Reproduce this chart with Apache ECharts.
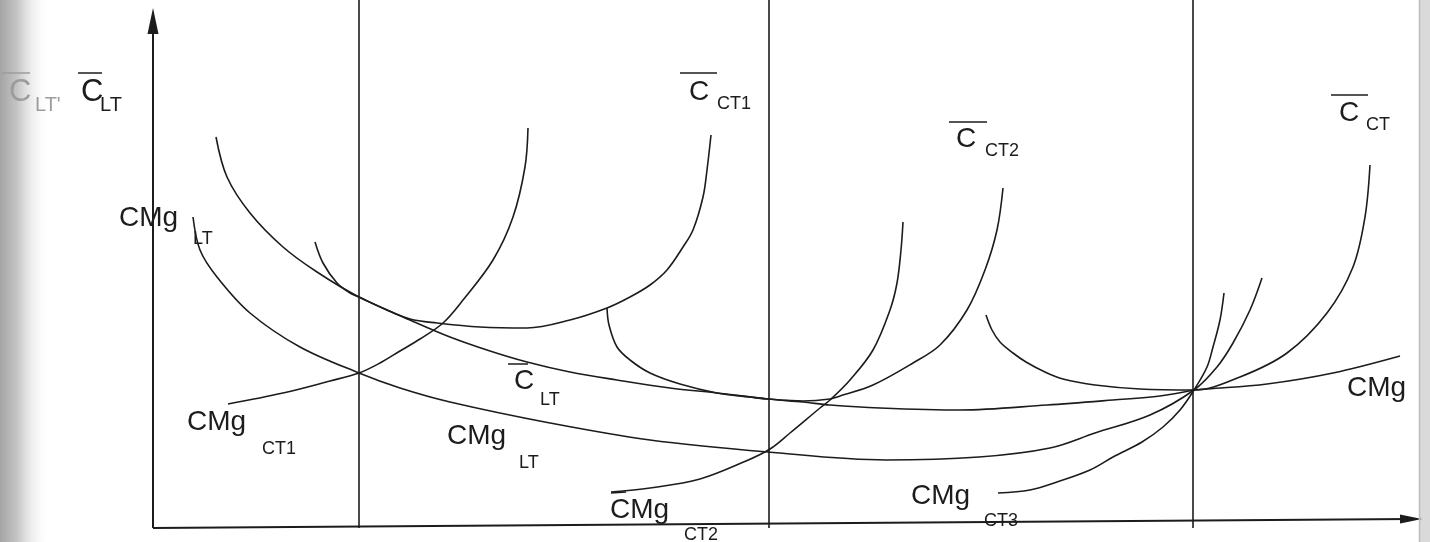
<!DOCTYPE html>
<html><head><meta charset="utf-8">
<script src="https://cdn.jsdelivr.net/npm/echarts/dist/echarts.min.js"></script>
<style>html,body{margin:0;padding:0;background:#fff}#c{width:1430px;height:542px}</style>
</head><body><div id="c"></div>
<script>
// Values: [quantity, cost] (arbitrary units, origin at the axes corner)
const cltAvg   = [[63,391],[74,351],[97,315],[130,281],[164,256],[206,231],[257,208],[297,191],[337,177],[374,166],[417,156],[464,148],[517,140],[564,135],[615,129],[650,126],[677,123],[727,120],[807,118],[894,123],[960,128],[1007,132],[1041,138]];
const cmgLT    = [[40,311],[47,278],[64,251],[97,215],[147,181],[206,155],[247,140],[297,126],[397,105],[497,88],[615,76],[733,68],[826,71],[897,80],[942,95],[997,113],[1041,138],[1064,161],[1080,185],[1097,218],[1109,250]];
const cmgRight = [[1041,138],[1054,139],[1114,144],[1180,155],[1247,172]];
const cmgCT1   = [[75,124],[130,135],[177,147],[206,155],[227,165],[247,177],[267,189],[290,205],[310,228],[340,268],[360,311],[372,361],[375,400]];
const cCT1     = [[162,286],[170,265],[184,245],[197,235],[206,231],[232,219],[257,209],[284,205],[327,201],[374,200],[417,208],[454,220],[477,231],[497,243],[514,258],[530,281],[540,298],[550,331],[554,358],[558,393]];
const cCT2     = [[454,220],[456,203],[464,181],[477,168],[497,155],[527,144],[564,135],[597,131],[615,129],[650,127],[677,129],[687,132],[720,143],[760,165],[787,183],[814,218],[832,258],[844,298],[850,340]];
const cmgCT2   = [[458,36],[497,40],[547,49],[593,67],[617,79],[637,95],[667,120],[677,128],[697,148],[720,178],[737,218],[744,245],[748,278],[750,306]];
const cCT      = [[833,213],[839,198],[847,186],[860,175],[873,166],[892,156],[910,149],[942,143],[987,139],[1041,138],[1087,151],[1134,175],[1174,215],[1200,261],[1212,311],[1217,363]];
const cmgCT3   = [[845,35],[877,38],[904,46],[937,58],[960,71],[989,86],[1010,101],[1027,118],[1041,138],[1054,161],[1060,181],[1067,208],[1071,235]];
const plantSizes = [206, 616, 1040];
const xAxisEnd = [1258, 9];
const yAxisEnd = [0, 507];

const INK = '#1c1c1c';
const FONT = '"Liberation Sans", Arial, sans-serif';

function curve(name, data) {
  return {
    name, type: 'line', data, showSymbol: false, symbol: 'none',
    smooth: 0.35,
    lineStyle: { color: INK, width: 1.6 }, silent: true, z: 3
  };
}

const chart = echarts.init(document.getElementById('c'), null, { renderer: 'canvas' });

function txt(x, y, s, size, color) {
  return { type: 'text', x, y, z: 20, silent: true,
    style: { text: s, font: size + 'px ' + FONT, fill: color || INK, align: 'left', verticalAlign: 'middle' } };
}
function bar(x1, y1, x2, y2, color) {
  return { type: 'line', z: 20, silent: true, shape: { x1, y1, x2, y2 }, style: { stroke: color || INK, lineWidth: 1.5 } };
}

const graphics = [
  { type: 'rect', z: 0, silent: true, shape: { x: 0, y: 0, width: 50, height: 542 },
    style: { fill: new echarts.graphic.LinearGradient(0, 0, 1, 0, [
      { offset: 0, color: '#a4a4a4' }, { offset: 0.35, color: '#c6c6c6' }, { offset: 1, color: 'rgba(255,255,255,0)' }]) } },
  { type: 'rect', z: 0, silent: true, shape: { x: 1419, y: 0, width: 11, height: 542 }, style: { fill: '#dadada' } },
  bar(1419.5, 0, 1419.5, 542, '#bdbdbd'),
  // top-left axis title
  bar(2, 73, 30, 73, '#9c9c9c'), txt(9, 92, 'C', 31, '#9c9c9c'), txt(35, 105, "LT'", 20, '#9c9c9c'),
  bar(78, 73, 102, 73), txt(81, 92, 'C', 31), txt(100, 105, 'LT', 20),
  // C̄CT1
  bar(680, 73, 717, 73), txt(689, 92, 'C', 28), txt(717, 104, 'CT1', 18),
  // C̄CT2
  bar(949, 122, 987, 122), txt(956, 139, 'C', 28), txt(985, 151, 'CT2', 18),
  // C̄CT
  bar(1331, 95, 1368, 95), txt(1339, 113, 'C', 28), txt(1366, 125, 'CT', 18),
  // CMg LT (left)
  txt(119, 218, 'CMg', 28), txt(193, 239, 'LT', 18),
  // CMg CT1
  txt(187, 422, 'CMg', 28), txt(262, 449, 'CT1', 18),
  // C̄LT (middle)
  bar(508, 364, 528, 364), txt(514, 381, 'C', 28), txt(540, 400, 'LT', 18),
  // CMg LT (middle)
  txt(447, 436, 'CMg', 28), txt(519, 463, 'LT', 18),
  // C̄Mg CT2
  bar(611, 493, 626, 492), txt(610, 510, 'CMg', 28), txt(684, 535, 'CT2', 18),
  // CMg CT3
  txt(911, 496, 'CMg', 28), txt(984, 521, 'CT3', 18),
  // CMg right
  txt(1347, 388, 'CMg', 28)
];

const axisSeries = {
  type: 'line', data: [], silent: true, z: 4,
  markLine: {
    silent: true, animation: false,
    label: { show: false }, emphasis: { disabled: true },
    data: [
      [{ coord: [0, 0], symbol: 'none', lineStyle: { color: INK, width: 2, type: 'solid' } },
       { coord: xAxisEnd, symbol: 'triangle', symbolSize: [9, 22] }],
      [{ coord: [0, 0], symbol: 'none', lineStyle: { color: INK, width: 2, type: 'solid' } },
       { coord: yAxisEnd, symbol: 'triangle', symbolSize: [11, 26] }],
      ...plantSizes.map(q => [
        { coord: [q, 0], symbol: 'none', lineStyle: { color: INK, width: 1.6, type: 'solid' } },
        { coord: [q, 528], symbol: 'none' }])
    ]
  }
};

chart.setOption({
  animation: false,
  backgroundColor: '#ffffff',
  grid: { left: 153, right: 0, top: 0, bottom: 14 },
  xAxis: { type: 'value', min: 0, max: 1277, show: false },
  yAxis: { type: 'value', min: 0, max: 528, show: false },
  series: [
    axisSeries,
    curve('C̄LT', cltAvg),
    curve('CMgLT', cmgLT),
    curve('CMg', cmgRight),
    curve('CMgCT1', cmgCT1),
    curve('C̄CT1', cCT1),
    curve('C̄CT2', cCT2),
    curve('CMgCT2', cmgCT2),
    curve('C̄CT', cCT),
    curve('CMgCT3', cmgCT3)
  ],
  graphic: graphics
});
</script></body></html>
